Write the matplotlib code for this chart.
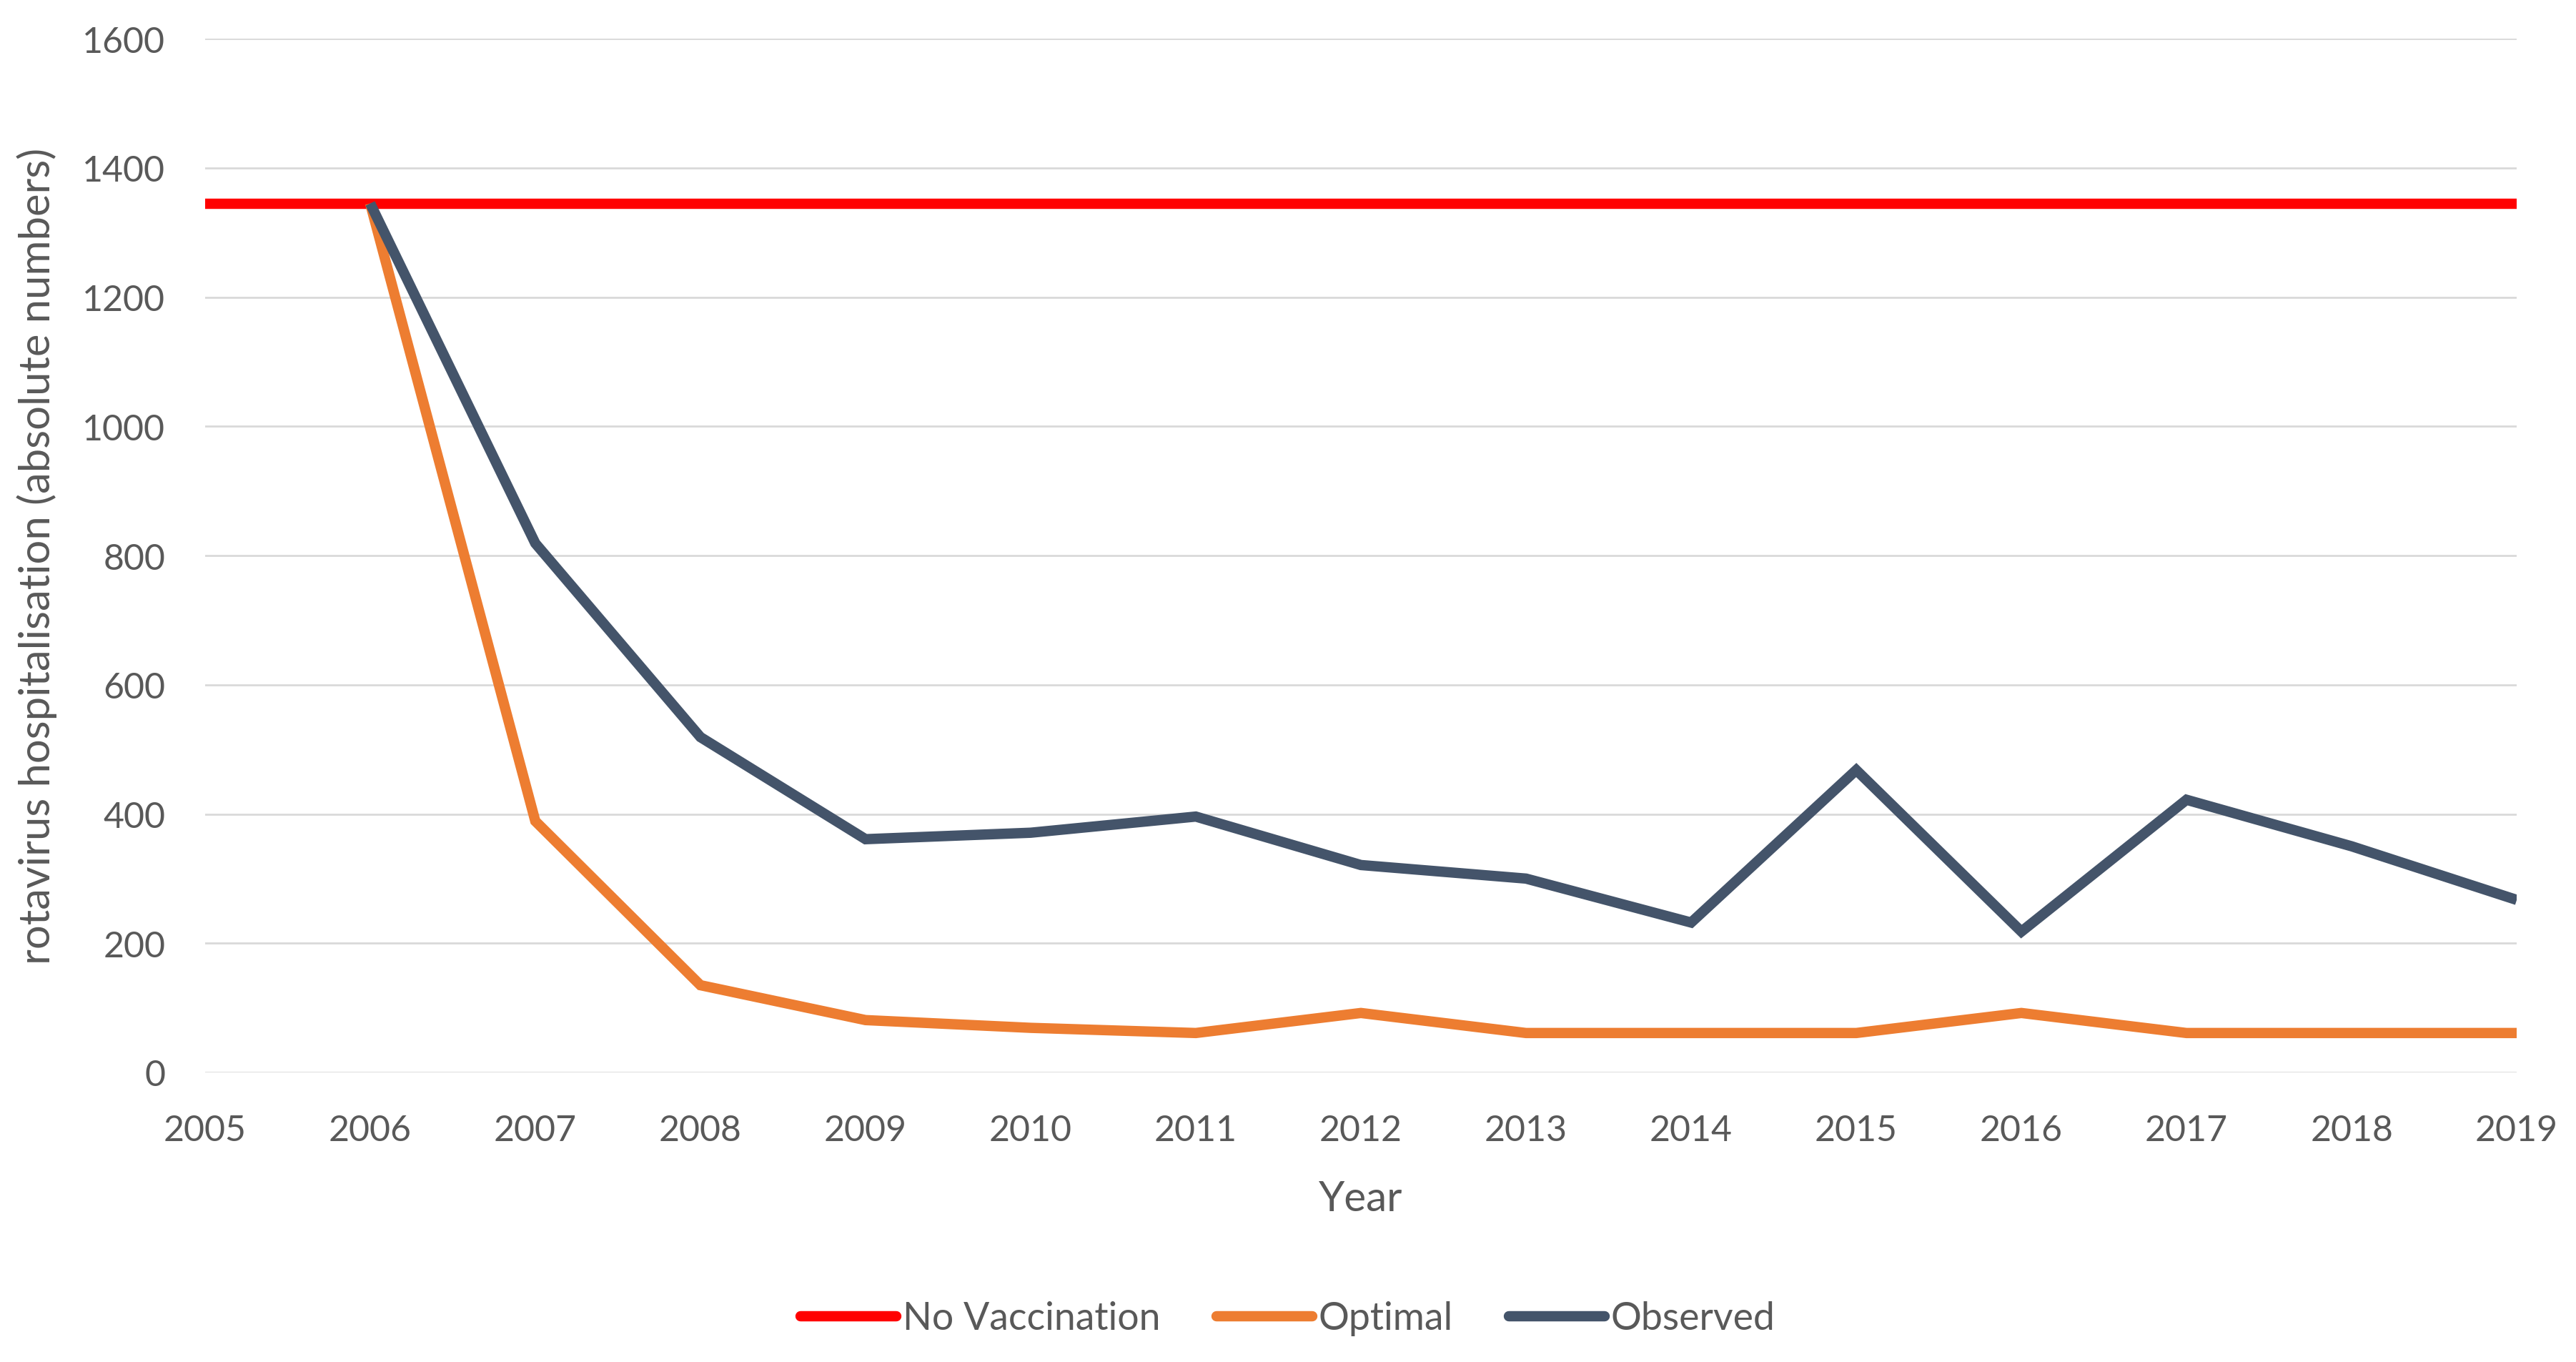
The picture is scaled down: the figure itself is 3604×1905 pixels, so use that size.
import matplotlib
matplotlib.use("Agg")
import matplotlib.pyplot as plt

years = [2006, 2007, 2008, 2009, 2010, 2011, 2012, 2013, 2014, 2015, 2016, 2017, 2018, 2019]
observed = [1345, 819, 519, 361, 371, 396, 321, 300, 232, 468, 218, 422, 350, 267]
optimal = [1345, 389, 135, 81, 69, 61, 92, 61, 61, 61, 92, 61, 61, 61]
no_vacc_years = [2005, 2019]
no_vacc = [1345, 1345]
xticks = list(range(2005, 2020))
yticks = list(range(0, 1601, 200))

plt.rcParams['font.family'] = ['Lato', 'DejaVu Sans']
txt = '#595959'

fig = plt.figure(figsize=(18.02, 9.53), dpi=200)
ax = fig.add_axes([0.0796, 0.2125, 0.977 - 0.0796, 0.9711 - 0.2125])

lw = 5.2
ax.plot(no_vacc_years, no_vacc, color='#FF0000', lw=lw, label='No Vaccination', solid_capstyle='butt', zorder=3)
ax.plot(years, optimal, color='#ED7D31', lw=lw, label='Optimal', solid_joinstyle='miter', solid_capstyle='butt', zorder=4)
ax.plot(years, observed, color='#44546A', lw=lw, label='Observed', solid_joinstyle='miter', solid_capstyle='butt', zorder=5)

ax.set_xlim(2005, 2019)
ax.set_ylim(0, 1600)
ax.set_xticks(xticks)
ax.set_yticks(yticks)
ax.set_xticklabels([str(x) for x in xticks])
ax.set_yticklabels([str(y) for y in yticks])
ax.tick_params(axis='both', length=0, labelsize=18, colors=txt)
ax.tick_params(axis='x', pad=21)
ax.tick_params(axis='y', pad=20)
ax.grid(axis='y', color='#D9D9D9', lw=1.0, zorder=0)
ax.set_axisbelow(True)
for s in ax.spines.values():
    s.set_visible(False)

ax.set_xlabel('Year', fontsize=21, color=txt)
ax.xaxis.set_label_coords(0.5, -0.104)
ax.set_ylabel('rotavirus hospitalisation (absolute numbers)', fontsize=21.5, color=txt)
ax.yaxis.set_label_coords(-0.064, 0.5)

leg = fig.legend(loc='center', bbox_to_anchor=(0.5, 1 - 1845 / 1906), ncol=3, frameon=False,
                 fontsize=19.3, handlelength=2.5, handletextpad=0.17, columnspacing=1.45,
                 labelcolor=txt)
for h in leg.get_lines():
    h.set_linewidth(lw)
    h.set_solid_capstyle('round')

fig.savefig('out.png', dpi=200)
